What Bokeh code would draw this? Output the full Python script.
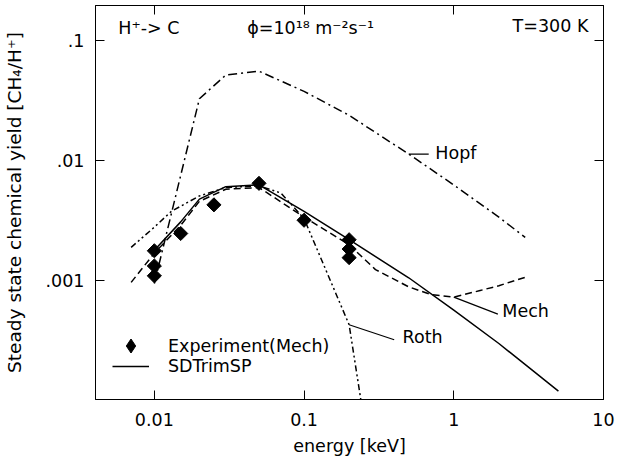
import numpy as np
from bokeh.plotting import figure
from bokeh.models import (LogAxis, FixedTicker, Label, Legend, LegendItem, Range1d,
                          ColumnDataSource)
from bokeh.embed import file_html
from bokeh.resources import INLINE

# ---------------- data ----------------
exp_energy = [0.01, 0.01, 0.01, 0.015, 0.025, 0.05, 0.1, 0.2, 0.2, 0.2]
exp_yield = [0.00178, 0.00133, 0.0011, 0.00248, 0.0043, 0.0065, 0.0032, 0.0022, 0.00184, 0.00156]

sdtrim_energy = [0.01, 0.015, 0.02, 0.03, 0.05, 0.1, 0.2, 0.5, 1, 2, 5]
sdtrim_yield = [0.0018, 0.0031, 0.0048, 0.0061, 0.0063, 0.0038, 0.0022, 0.00106, 0.00057, 0.0003, 0.00012]

mech_energy = [0.007, 0.01, 0.015, 0.02, 0.03, 0.05, 0.1, 0.2, 0.3, 0.5, 0.7, 1, 1.5, 2, 3]
mech_yield = [0.00097, 0.0017, 0.0029, 0.0046, 0.0058, 0.006, 0.0034, 0.002, 0.00124, 0.00089, 0.00077,
              0.00073, 0.00083, 0.00091, 0.00107]

roth_energy = [0.007, 0.01, 0.013, 0.02, 0.03, 0.05, 0.07, 0.1, 0.2, 0.24]
roth_yield = [0.0019, 0.0028, 0.0038, 0.0051, 0.006, 0.0062, 0.0054, 0.0033, 0.00043, 0.0001]

hopf_energy = [0.01, 0.02, 0.03, 0.05, 0.1, 0.2, 0.5, 1, 2, 3]
hopf_yield = [0.00095, 0.033, 0.052, 0.056, 0.038, 0.024, 0.0114, 0.0063, 0.0034, 0.0023]

x_ticks = [0.01, 0.1, 1, 10]
x_tick_labels = ["0.01", "0.1", "1", "10"]
y_ticks = [0.001, 0.01, 0.1]
y_tick_labels = [".001", ".01", ".1"]

# ---------------- figure ----------------
FONT = "DejaVu Sans"
FS = "17.5px"

p = figure(width=620, height=472, x_axis_type="log", y_axis_type="log",
           x_range=Range1d(10 ** -2.393, 10.0), y_range=Range1d(10 ** -3.99, 10 ** -0.704),
           output_backend="svg", toolbar_location=None,
           min_border_left=94, min_border_right=17, min_border_top=5, min_border_bottom=73)
p.grid.visible = False
p.outline_line_color = "black"
p.outline_line_width = 1
p.background_fill_color = "white"
p.border_fill_color = "white"

p.xaxis.axis_label = "energy [keV]"
p.yaxis.axis_label = "Steady state chemical yield [CH\u2084/H\u207a]"

for ax, ticks, labels in [(p.xaxis[0], x_ticks, x_tick_labels), (p.yaxis[0], y_ticks, y_tick_labels)]:
    ax.ticker = FixedTicker(ticks=ticks)
    ax.major_label_overrides = {t: l for t, l in zip(ticks, labels)}
    ax.major_tick_in = 9
    ax.major_tick_out = 0
    ax.minor_tick_line_color = None
    ax.major_tick_line_color = "black"
    ax.axis_line_color = "black"
    ax.major_label_text_font = FONT
    ax.major_label_text_font_size = FS
    ax.major_label_text_color = "black"
    ax.axis_label_text_font = FONT
    ax.axis_label_text_font_size = "18.5px"
    ax.axis_label_text_font_style = "normal"
    ax.axis_label_text_color = "black"

p.xaxis.axis_label_text_font_size = FS
p.xaxis.major_label_standoff = 13
p.xaxis.axis_label_standoff = 7
p.yaxis.major_label_standoff = 11
p.yaxis.axis_label_standoff = 18

# mirrored ticks on top and right
for side, ticks in [("above", x_ticks), ("right", y_ticks)]:
    ax = LogAxis(ticker=FixedTicker(ticks=ticks))
    ax.major_label_overrides = {t: "" for t in ticks}
    ax.major_label_standoff = 0
    ax.major_label_text_font_size = "0px"
    ax.major_tick_in = 9
    ax.major_tick_out = 0
    ax.minor_tick_line_color = None
    ax.major_tick_line_color = "black"
    ax.axis_line_color = "black"
    p.add_layout(ax, side)

# ---------------- curves ----------------
LW = 1.5
hopf_r = p.line(hopf_energy, hopf_yield, line_color="black", line_width=LW, line_dash="9 4 2 4")
roth_r = p.line(roth_energy, roth_yield, line_color="black", line_width=LW, line_dash="6 3 2 3 2 3")
mech_r = p.line(mech_energy, mech_yield, line_color="black", line_width=LW, line_dash="7 4")
sd_r = p.line(sdtrim_energy, sdtrim_yield, line_color="black", line_width=LW)

exp_src = ColumnDataSource(data=dict(energy=exp_energy, yld=exp_yield))
exp_r = p.scatter("energy", "yld", source=exp_src, marker="square", angle=np.pi / 4, size=10,
                  fill_color="black", line_color="black")

# hidden renderer used only as the legend sample (legend glyphs are drawn unrotated)
exp_leg = p.scatter("energy", "yld", source=exp_src, marker="diamond", size=14,
                    fill_color="black", line_color="black", visible=False)

leg_common = dict(padding=0, margin=0, spacing=0, glyph_width=37, label_standoff=19,
                  border_line_color=None, background_fill_alpha=0, inactive_fill_alpha=0,
                  label_text_font=FONT, label_text_font_size=FS, label_text_color="black")
leg1 = Legend(items=[LegendItem(label="Experiment(Mech)", renderers=[exp_leg])],
              location=(17, 36), glyph_height=35, label_height=35, **leg_common)
leg2 = Legend(items=[LegendItem(label="SDTrimSP", renderers=[sd_r])],
              location=(17, 23), glyph_height=20, label_height=20, **leg_common)
p.add_layout(leg1)
p.add_layout(leg2)

# ---------------- annotations ----------------
def lab(x, y, text):
    p.add_layout(Label(x=x, y=y, text=text, text_font=FONT, text_font_size=FS,
                       text_baseline="middle", text_align="left", text_color="black"))

lab(0.00575, 0.128, "H\u207a-> C")
lab(0.0417, 0.128, "\u03d5=10\u00b9\u2078 m\u207b\u00b2s\u207b\u00b9")
lab(2.47, 0.133, "T=300 K")
lab(0.753, 0.0117, "Hopf")
lab(2.11, 0.000562, "Mech")
lab(0.455, 0.000337, "Roth")

# leader lines
p.line([0.5, 0.68], [0.0114, 0.0114], line_color="black", line_width=1.2)
p.line([1.0, 1.97], [0.00073, 0.000527], line_color="black", line_width=1.2)
p.line([0.2, 0.4], [0.00043, 0.000322], line_color="black", line_width=1.2)

open("out.html", "w").write(file_html(p, INLINE))
